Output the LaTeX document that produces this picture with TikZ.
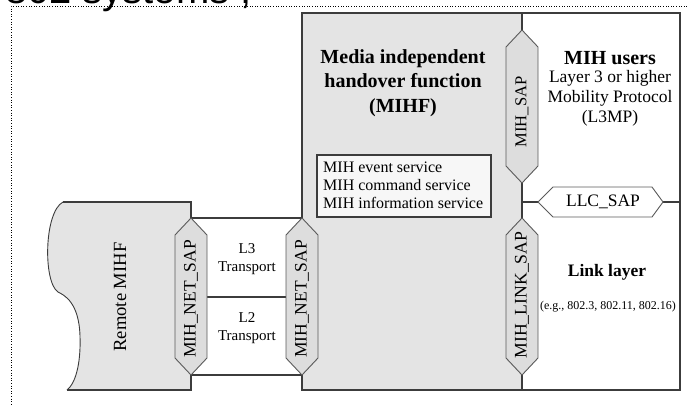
\documentclass[tikz,border=0pt]{standalone}
\usepackage{fontspec}
\setmainfont{Liberation Serif}
\newfontfamily\titlefont{Liberation Sans}
\definecolor{linec}{HTML}{3C3C3C}
\definecolor{grayfill}{HTML}{E4E4E4}
\definecolor{hexfill}{HTML}{DDDDDD}
\definecolor{hexline}{HTML}{5A5A5A}
\definecolor{svcfill}{HTML}{F7F7F7}
\newcommand{\vhexpath}[3]{(#1,#2) -- (#1+16,#2+17) -- (#1+16,#3-17) -- (#1,#3) -- (#1-16,#3-17) -- (#1-16,#2+17) -- cycle}
\begin{document}
\begin{tikzpicture}[x=1pt,y=-1pt,
  box/.style={draw=linec,line width=1.3pt},
  hexa/.style={draw=hexline,fill=hexfill,line width=0.9pt,line join=miter},
  lbl/.style={inner sep=0pt,text=black},
  fs/.style={font=\fontsize{#1}{#1}\selectfont}]
\useasboundingbox (0,0) rectangle (687,405);
\clip (0,0) rectangle (687,405);
% cut-off heading and dotted frame
\node[lbl,anchor=base east,font=\titlefont\fontsize{40}{40}\selectfont] (head) at (252,3) {2 802 systems ,};
\coordinate (frTL) at (11,6);
\coordinate (frTR) at (687,6);
\coordinate (frBL) at (11,405);
\draw[black,dotted,line width=0.6pt] (frTR) -- (frTL) -- (frBL);
% key points
\coordinate (A) at (302,13);
\coordinate (B) at (680,13);
\coordinate (C) at (680,390);
\coordinate (D) at (302,390);
\coordinate (divT) at (522,13);
\coordinate (divB) at (522,390);
\coordinate (divLLC) at (522,202);
\coordinate (rLLC) at (680,202);
\coordinate (sapT) at (522,30);
\coordinate (sapB) at (522,183);
\coordinate (linkT) at (522,218);
\coordinate (linkB) at (522,375);
\coordinate (netRT) at (302,218);
\coordinate (netRB) at (302,375);
\coordinate (netLT) at (191,218);
\coordinate (netLB) at (191,375);
\coordinate (llcL) at (538,202);
\coordinate (llcR) at (663,202);
\coordinate (midL) at (207,297);
\coordinate (midR) at (286,297);
\coordinate (rNE) at (191,202);
\coordinate (rSE) at (191,390);
\coordinate (rNW) at (63,202);
\coordinate (rSW) at (67,390);
% MIHF gray area
\fill[grayfill] (A) rectangle (divB);
% remote MIHF
\fill[grayfill] (rNE) -- (rNW) .. controls (44,212) and (43,282) .. (58,292)
  .. controls (64,295) and (79,302) .. (80,336) .. controls (81,365) and (75,384) .. (rSW) -- (rSE) -- cycle;
\draw[linec,line width=0.9pt] (rNW) .. controls (44,212) and (43,282) .. (58,292)
  .. controls (64,295) and (79,302) .. (80,336) .. controls (81,365) and (75,384) .. (rSW);
\draw[box] (netLT) -- (rNE) -- (rNW);
\draw[box] (rSW) -- (rSE) -- (netLB);
% MIHF / users box
\draw[box] (netRT) -- (A) -- (B) -- (C) -- (D) -- (netRB);
\draw[box] (divT) -- (sapT);
\draw[box] (sapB) -- (linkT);
\draw[box] (linkB) -- (divB);
\draw[box] (divLLC) -- (llcL);
\draw[box] (llcR) -- (rLLC);
% transport
\draw[box] (netLT) -- (netRT);
\draw[box] (netLB) -- (netRB);
\draw[box] (midL) -- (midR);
% services box
\draw[box,fill=svcfill] (317,155) rectangle (491,217);
% hexagons
\draw[hexa] \vhexpath{522}{30}{183};
\draw[hexa] \vhexpath{522}{218}{375};
\draw[hexa] \vhexpath{302}{218}{375};
\draw[hexa] \vhexpath{191}{218}{375};
\draw[hexa,fill=white] (llcL) -- (553,187) -- (652,187) -- (llcR) -- (652,217) -- (553,217) -- cycle;
% texts
\node[lbl,align=center,font=\bfseries\fontsize{20}{24.5}\selectfont] (mihf) at (403,83)
  {Media independent\\handover function\\(MIHF)};
\node[lbl,font=\bfseries\fontsize{20}{20}\selectfont] (users) at (610,58) {MIH users};
\node[lbl,align=center,font=\fontsize{17.5}{20}\selectfont] (l3mp) at (610,98)
  {Layer 3 or higher\\Mobility Protocol\\(L3MP)};
\node[lbl,anchor=west,align=left,font=\fontsize{16}{18}\selectfont] (svc) at (323,185)
  {MIH event service\\MIH command service\\MIH information service};
\node[lbl,align=center,font=\fontsize{15}{18}\selectfont] (l3t) at (247,259) {L3\\Transport};
\node[lbl,align=center,font=\fontsize{15}{18}\selectfont] (l2t) at (247,328) {L2\\Transport};
\node[lbl,font=\bfseries\fontsize{17.5}{17.5}\selectfont] (link) at (607,272) {Link layer};
\node[lbl,font=\fontsize{12}{12}\selectfont] (eg) at (608,307) {(e.g., 802.3, 802.11, 802.16)};
\node[lbl,fs=17.5] (llc) at (603,202) {LLC\_SAP};
\node[lbl,fs=16.6,rotate=90] (msap) at (522,112) {MIH\_SAP};
\node[lbl,fs=17.7,rotate=90] (mlink) at (522,295) {MIH\_LINK\_SAP};
\node[lbl,fs=17.5,rotate=90] (mnetR) at (302,299) {MIH\_NET\_SAP};
\node[lbl,fs=17.5,rotate=90] (mnetL) at (191,299) {MIH\_NET\_SAP};
\node[lbl,fs=18.6,rotate=90] (remote) at (120,297) {Remote MIHF};
\end{tikzpicture}
\end{document}
